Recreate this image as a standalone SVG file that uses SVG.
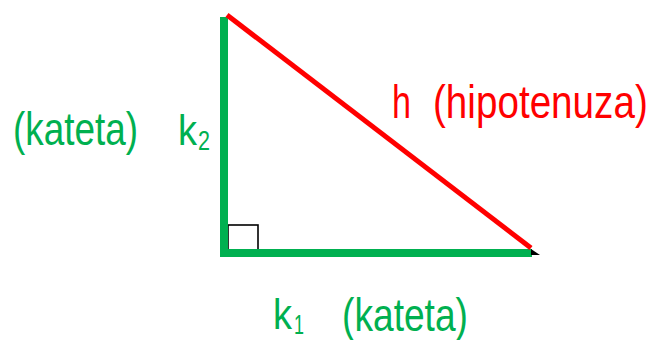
<svg xmlns="http://www.w3.org/2000/svg" width="655" height="340" viewBox="0 0 655 340">
<style>
.g{fill:#00b050;font-family:"Liberation Sans",Arial,sans-serif}
.r{fill:#ff0000;font-family:"Liberation Sans",Arial,sans-serif}
.leg{stroke:#00b050;stroke-width:8;fill:none}
.hyp{stroke:#ff0000;stroke-width:5;fill:none}
</style>
<rect width="655" height="340" fill="#ffffff"/>
<g id="connectors">
<rect id="right-angle" x="228" y="225" width="30" height="28" fill="none" stroke="#000" stroke-width="1.6"/>
<line class="leg" x1="224" y1="17" x2="224" y2="257"/>
<line class="leg" x1="220" y1="253" x2="532" y2="253"/>
<line class="hyp" x1="227" y1="15" x2="531" y2="248"/>
<polygon points="531,249 540,255 531,255" fill="#000"/>
</g>
<g id="label-k2">
<text class="g" x="13" y="145" font-size="46" textLength="125" lengthAdjust="spacingAndGlyphs">(kateta)</text>
<text class="g" x="178" y="145" font-size="43" textLength="19" lengthAdjust="spacingAndGlyphs">k</text>
<text class="g" x="198" y="150" font-size="28" textLength="12" lengthAdjust="spacingAndGlyphs">2</text>
</g>
<g id="label-h">
<text class="r" x="392" y="118" font-size="46" textLength="19" lengthAdjust="spacingAndGlyphs">h</text>
<text class="r" transform="translate(433,118) scale(0.84,1)" x="0" y="0" font-size="46">(hipotenuza)</text>
</g>
<g id="label-k1">
<text class="g" x="273" y="329" font-size="43" textLength="19" lengthAdjust="spacingAndGlyphs">k</text>
<text class="g" x="294" y="334" font-size="28" textLength="10" lengthAdjust="spacingAndGlyphs">1</text>
<text class="g" x="342" y="331" font-size="46" textLength="126" lengthAdjust="spacingAndGlyphs">(kateta)</text>
</g>
</svg>
